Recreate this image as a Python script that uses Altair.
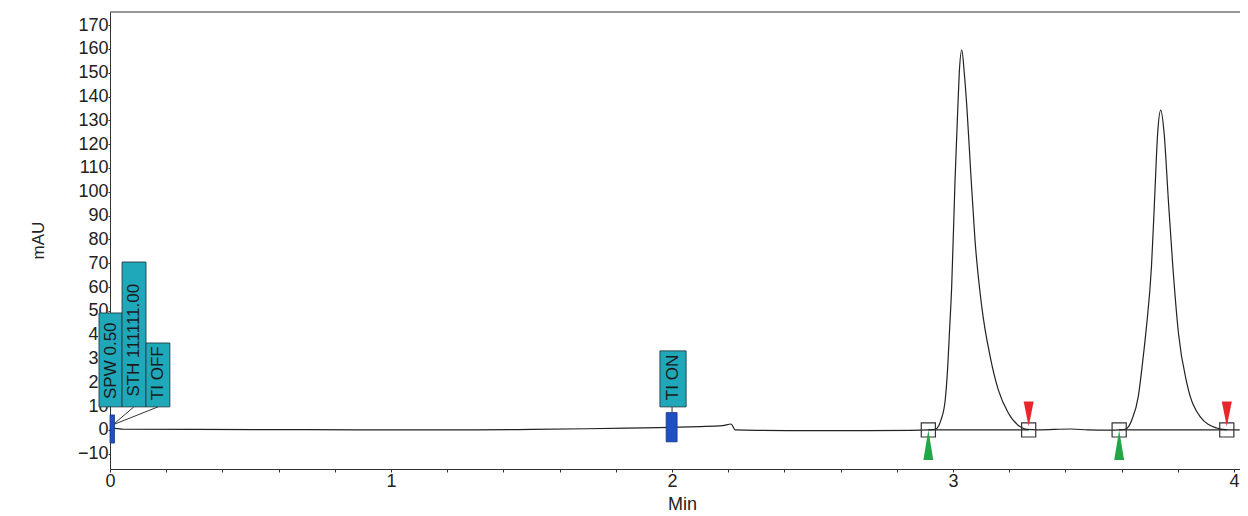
import altair as alt
import pandas as pd

# ---- chromatogram trace (min, mAU) ----
trace_t = [0.0, 0.006, 0.05, 0.3, 0.7, 1.0, 1.3, 1.5, 1.7, 1.9, 2.0, 2.1, 2.18, 2.21, 2.225,
           2.3, 2.6, 2.85, 2.912, 2.936, 2.950, 2.957, 2.972, 2.981, 2.987, 2.995, 3.007,
           3.017, 3.022, 3.031,
           3.040, 3.049, 3.063, 3.078, 3.102, 3.132, 3.161, 3.197, 3.238, 3.262, 3.3,
           3.42, 3.48, 3.56, 3.591, 3.612, 3.625, 3.636, 3.659, 3.674, 3.687, 3.706, 3.717,
           3.728, 3.739,
           3.751, 3.766, 3.782, 3.802, 3.832, 3.879, 3.938, 3.968, 4.0, 4.02]
trace_v = [0.0, 0.8, 0.3, 0.2, 0.1, 0.0, 0.0, 0.2, 0.5, 0.9, 1.1, 1.4, 1.8, 2.5, 0.0,
           -0.2, -0.3, -0.2, 0.0, 0.3, 2.0, 4.2, 12.6, 26.6, 40.7, 60.0, 105.0,
           135.7, 149.7, 159.5,
           149.7, 135.7, 107.8, 79.8, 51.8, 30.8, 16.8, 7.0, 1.4, 0.2, 0.0,
           0.4, 0.0, -0.1, 0.0, 0.3, 1.5, 4.2, 14.0, 28.0, 42.0, 68.6, 96.6,
           124.6, 134.3,
           124.6, 96.6, 68.6, 40.6, 19.6, 5.6, 0.8, 0.1, 0.0, 0.0]

# ---- peak integration marks ----
peak_start = [2.912, 3.591]
peak_end = [3.269, 3.974]

# ---- timed event annotations ----
event_labels = ["SPW 0.50", "STH 111111.00", "TI OFF", "TI ON"]
event_x1 = [-0.039, 0.043, 0.128, 1.957]
event_x2 = [0.043, 0.128, 0.213, 2.050]
event_y1 = [9.7, 9.7, 9.7, 9.7]
event_y2 = [49.1, 70.5, 36.5, 33.2]
event_text_y = [13.0, 14.0, 12.5, 12.5]

marker_x1 = [0.0, 1.979]
marker_x2 = [0.016, 2.018]
marker_y1 = [-5.5, -5.0]
marker_y2 = [6.3, 7.3]

conn_x1 = [0.085, 0.171, 2.0]
conn_y1 = [9.7, 9.7, 9.7]
conn_x2 = [0.011, 0.011, 2.0]
conn_y2 = [2.2, 2.2, 7.3]

x_ticks = [round(i * 0.2, 1) for i in range(21)]
y_ticks = list(range(-10, 171, 10))

X_DOM = [0, 4.021]
Y_DOM = [-16.4, 175.5]
FONT = "Liberation Sans"

xs = alt.Scale(domain=X_DOM, nice=False, zero=False)
ys = alt.Scale(domain=Y_DOM, nice=False, zero=False)

XAXIS = alt.Axis(
    values=x_ticks, title="Min", grid=False, tickSize=3, labelPadding=0,
    labelFontSize=18, labelFont=FONT, labelColor="#222", labelFlush=False,
    labelOverlap=False,
    labelExpr="abs(datum.value - round(datum.value)) < 0.001 ? format(datum.value, 'd') : ''",
    titleFont=FONT, titleFontSize=18, titleFontWeight="normal", titleColor="#222",
    titleX=572, titleY=35, titleBaseline="middle",
    domainColor="#333", tickColor="#333")
YAXIS = alt.Axis(
    values=y_ticks, title="mAU", grid=False, tickSize=2, labelPadding=0,
    labelFontSize=18, labelFont=FONT, labelColor="#222", labelOverlap=False,
    labelFlush=False, labelBound=False, labelSeparation=-8,
    titleFont=FONT, titleFontSize=17, titleFontWeight="normal", titleColor="#222",
    titleAngle=270, titleX=-72, titleY=228, titleBaseline="middle", titleAlign="center",
    domainColor="#333", tickColor="#333")


def X(f):
    return alt.X(f, scale=xs, axis=XAXIS)


def Y(f):
    return alt.Y(f, scale=ys, axis=YAXIS)


trace_df = pd.DataFrame({"t": trace_t, "v": trace_v})
line = alt.Chart(trace_df).mark_line(color="#222222", strokeWidth=1.2, interpolate="monotone").encode(
    x=X("t:Q"), y=Y("v:Q"))

base_df = pd.DataFrame({"s": peak_start, "e": peak_end, "z": [0.0, 0.0]})
baselines = alt.Chart(base_df).mark_rule(color="#222222", strokeWidth=1.2).encode(
    x=X("s:Q"), x2="e:Q", y=Y("z:Q"))

conn_df = pd.DataFrame({"x1": conn_x1, "y1": conn_y1, "x2": conn_x2, "y2": conn_y2})
conns = alt.Chart(conn_df).mark_rule(color="#333333", strokeWidth=1).encode(
    x=X("x1:Q"), y=Y("y1:Q"), x2="x2:Q", y2="y2:Q")

ev_df = pd.DataFrame({"label": event_labels, "x1": event_x1, "x2": event_x2,
                      "y1": event_y1, "y2": event_y2, "ty": event_text_y,
                      "xc": [(a + b) / 2 for a, b in zip(event_x1, event_x2)]})
boxes = alt.Chart(ev_df).mark_rect(fill="#1fa8ba", stroke="#24484f", strokeWidth=1).encode(
    x=X("x1:Q"), x2="x2:Q", y=Y("y1:Q"), y2="y2:Q")
box_text = alt.Chart(ev_df).mark_text(angle=270, align="left", baseline="middle",
                                      fontSize=17, font=FONT, color="#1a1a1a").encode(
    x=X("xc:Q"), y=Y("ty:Q"), text="label:N")

mk_df = pd.DataFrame({"x1": marker_x1, "x2": marker_x2, "y1": marker_y1, "y2": marker_y2})
markers = alt.Chart(mk_df).mark_rect(fill="#1e4fc4", stroke="#1a3a8a", strokeWidth=0.8).encode(
    x=X("x1:Q"), x2="x2:Q", y=Y("y1:Q"), y2="y2:Q")

sq_df = pd.DataFrame({"t": peak_start + peak_end, "v": [0.0] * 4})
squares = alt.Chart(sq_df).mark_point(shape="square", filled=False, size=200,
                                       color="#333333", strokeWidth=1.2, opacity=1).encode(
    x=X("t:Q"), y=Y("v:Q"))

gr_df = pd.DataFrame({"t": peak_start, "v": [-6.3, -6.3]})
green = alt.Chart(gr_df).mark_point(shape="M 0 -1 L 0.33 1 L -0.33 1 Z", filled=True, size=900,
                                     color="#22a648", opacity=1, strokeWidth=0).encode(
    x=X("t:Q"), y=Y("v:Q"))

rd_df = pd.DataFrame({"t": peak_end, "v": [6.7, 6.7]})
red = alt.Chart(rd_df).mark_point(shape="M -0.4 -1 L 0.4 -1 L 0 1 Z", filled=True, size=625,
                                   color="#e8262b", opacity=1, strokeWidth=0).encode(
    x=X("t:Q"), y=Y("v:Q"))

top = alt.Chart(pd.DataFrame({"a": [0]})).mark_rule(color="#333333", strokeWidth=1).encode(
    x=alt.value(0), x2=alt.value(1130), y=alt.value(0))

chart = alt.layer(line, baselines, conns, boxes, box_text, markers, squares, green, red, top).properties(
    width=1130, height=457, background="white",
    padding={"left": 102, "top": 4, "right": 0, "bottom": 43},
    autosize=alt.AutoSizeParams(type="none"),
).configure_view(stroke=None).configure_axis(labelOverlap=False)

chart.save("out.html", embed_options={"renderer": "svg", "actions": False})
